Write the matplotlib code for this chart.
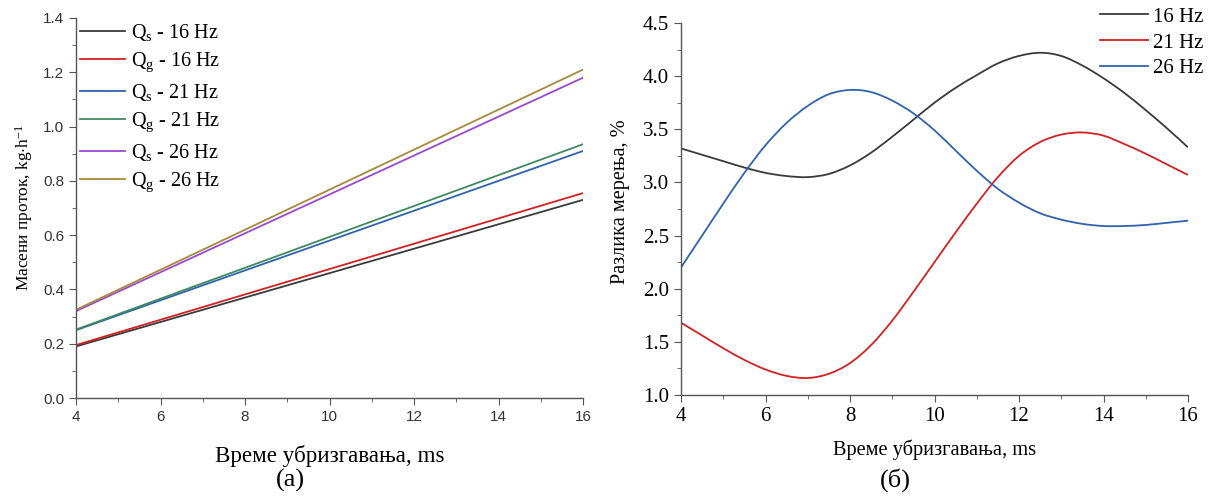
import numpy as np
import matplotlib
matplotlib.use("Agg")
import matplotlib.pyplot as plt
from matplotlib.ticker import MultipleLocator
from matplotlib.path import Path
from matplotlib.patches import PathPatch
from matplotlib.lines import Line2D

plt.rcParams['font.family'] = ['Liberation Serif', 'DejaVu Serif']
plt.rcParams['mathtext.fontset'] = 'custom'
plt.rcParams['mathtext.rm'] = 'Liberation Serif'
plt.rcParams['mathtext.it'] = 'Liberation Serif:italic'

# (a) mass flow, linear from 4 to 16 ms
x_lin = [4, 16]
qs_16 = [0.19, 0.73]
qg_16 = [0.195, 0.755]
qs_21 = [0.25, 0.91]
qg_21 = [0.252, 0.935]
qs_26 = [0.32, 1.18]
qg_26 = [0.325, 1.21]
left_labels = [r'Q$_\mathregular{s}$ - 16 Hz', r'Q$_\mathregular{g}$ - 16 Hz',
               r'Q$_\mathregular{s}$ - 21 Hz', r'Q$_\mathregular{g}$ - 21 Hz',
               r'Q$_\mathregular{s}$ - 26 Hz', r'Q$_\mathregular{g}$ - 26 Hz']
left_colors = ['#3a3a3a', '#d42020', '#2f62b0', '#3e8a60', '#9a48d4', '#a6893a']

# (б) measurement difference, %
t = [4, 4.5, 5, 5.5, 6, 6.5, 7, 7.5, 8, 8.5, 9, 9.5, 10, 10.5, 11, 11.5,
     12, 12.5, 13, 13.5, 14, 14.5, 15, 15.5, 16]
d_16 = [3.32, 3.26, 3.20, 3.14, 3.09, 3.06, 3.05, 3.08, 3.16, 3.28, 3.43, 3.59,
        3.75, 3.89, 4.01, 4.12, 4.19, 4.22, 4.19, 4.10, 3.98, 3.84, 3.68, 3.51, 3.33]
d_21 = [1.68, 1.56, 1.44, 1.33, 1.24, 1.18, 1.16, 1.20, 1.30, 1.47, 1.70, 1.97,
        2.25, 2.53, 2.80, 3.05, 3.25, 3.38, 3.45, 3.47, 3.44, 3.36, 3.27, 3.17, 3.07]
d_26 = [2.20, 2.50, 2.80, 3.09, 3.35, 3.56, 3.72, 3.83, 3.87, 3.85, 3.77, 3.65,
        3.49, 3.30, 3.11, 2.94, 2.81, 2.71, 2.65, 2.61, 2.59, 2.59, 2.60, 2.62, 2.64]
right_labels = ['16 Hz', '21 Hz', '26 Hz']
right_colors = ['#3a3a3a', '#d42020', '#2f62b0']


def spline_path(xs, ys):
    # smooth connection through the data points (bezier, catmull-rom tangents)
    p = np.column_stack([xs, ys]).astype(float)
    ext = np.vstack([p[0], p, p[-1]])
    verts = [p[0]]
    codes = [Path.MOVETO]
    for i in range(len(p) - 1):
        c1 = ext[i + 1] + (ext[i + 2] - ext[i]) / 6.0
        c2 = ext[i + 2] - (ext[i + 3] - ext[i + 1]) / 6.0
        verts += [c1, c2, p[i + 1]]
        codes += [Path.CURVE4] * 3
    return Path(verts, codes)


fig = plt.figure(figsize=(12.09, 4.98), dpi=100)
W, H = 1209.0, 498.0
ax1 = fig.add_axes([76 / W, 1 - 398 / H, (583 - 76) / W, (398 - 18) / H])
ax2 = fig.add_axes([681 / W, 1 - 395 / H, (1188 - 681) / W, (395 - 23) / H])

for ax in (ax1, ax2):
    ax.spines['top'].set_visible(False)
    ax.spines['right'].set_visible(False)
    for s in ('left', 'bottom'):
        ax.spines[s].set_color('#555555')
        ax.spines[s].set_linewidth(1.0)
    ax.tick_params(which='both', direction='out', color='#555555')
    ax.tick_params(which='major', length=5)
    ax.tick_params(which='minor', length=3)

# --- (a) ---
for y, lab, c in zip([qs_16, qg_16, qs_21, qg_21, qs_26, qg_26], left_labels, left_colors):
    ax1.plot(x_lin, y, color=c, lw=1.3, label=lab)
ax1.set_xlim(4, 16)
ax1.set_ylim(0, 1.4)
ax1.xaxis.set_major_locator(MultipleLocator(2))
ax1.xaxis.set_minor_locator(MultipleLocator(1))
ax1.yaxis.set_major_locator(MultipleLocator(0.2))
ax1.yaxis.set_minor_locator(MultipleLocator(0.1))
ax1.yaxis.set_major_formatter(plt.FuncFormatter(lambda v, p: '%.1f' % v))
for lab in ax1.get_xticklabels() + ax1.get_yticklabels():
    lab.set_family(['Liberation Sans', 'DejaVu Sans'])
    lab.set_fontsize(11)
    lab.set_color('#333333')
ax1.set_xlabel('Време убризгавања, ms', fontsize=16.6, labelpad=15)
ax1.set_ylabel(r'Масени проток, kg$\cdot$h$^{-1}$', fontsize=12.5, labelpad=6)
ax1.legend(loc='upper left', bbox_to_anchor=(0.0, 1.0), frameon=False,
           fontsize=14.5, handlelength=2.25, handletextpad=0.3,
           labelspacing=0.38, borderaxespad=0.1, borderpad=0.1)

# --- (б) ---
for y, c in zip([d_16, d_21, d_26], right_colors):
    ax2.add_patch(PathPatch(spline_path(t, y), fill=False, edgecolor=c, lw=1.3))
ax2.set_xlim(4, 16)
ax2.set_ylim(1.0, 4.5)
ax2.xaxis.set_major_locator(MultipleLocator(2))
ax2.xaxis.set_minor_locator(MultipleLocator(1))
ax2.yaxis.set_major_locator(MultipleLocator(0.5))
ax2.yaxis.set_minor_locator(MultipleLocator(0.25))
ax2.yaxis.set_major_formatter(plt.FuncFormatter(lambda v, p: '%.1f' % v))
ax2.tick_params(labelsize=15)
ax2.set_xlabel('Време убризгавања, ms', fontsize=14.7, labelpad=10)
ax2.set_ylabel('Разлика мерења, %', fontsize=14.6)
ax2.yaxis.set_label_coords(-0.10, 0.52)
handles = [Line2D([], [], color=c, lw=1.3) for c in right_colors]
ax2.legend(handles, right_labels, loc='upper right',
           bbox_to_anchor=(1205 / W, 1 - 5 / H),
           bbox_transform=fig.transFigure, frameon=False,
           fontsize=15, handlelength=2.3, handletextpad=0.2,
           labelspacing=0.3, borderaxespad=0.0, borderpad=0.1)

fig.text(290 / W, 1 - 480 / H, '(а)', fontsize=19, ha='center', va='center')
fig.text(895 / W, 1 - 480 / H, '(б)', fontsize=19, ha='center', va='center')

fig.savefig('out.png', dpi=100)
